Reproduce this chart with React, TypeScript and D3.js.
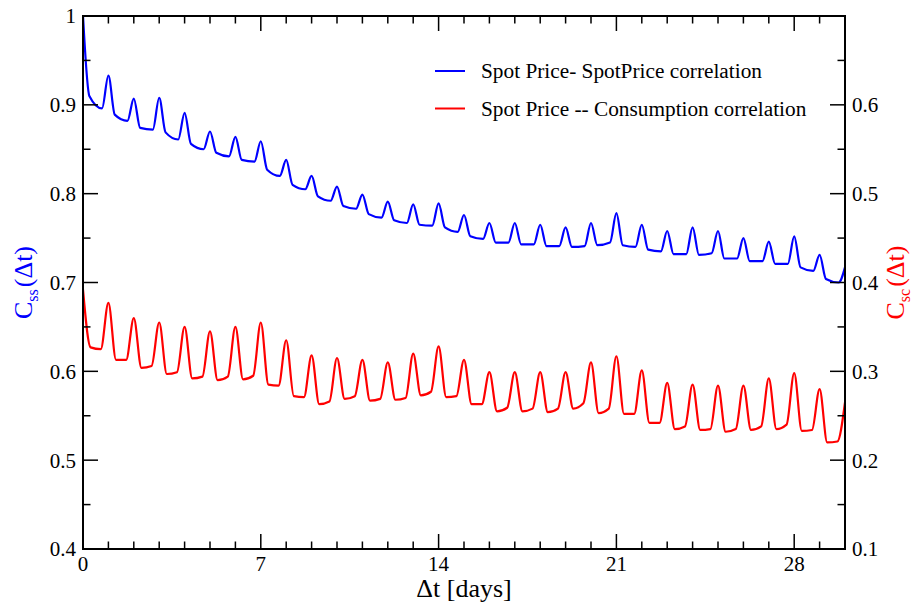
import React from "react";
import * as d3 from "d3";

// Days 0..30 — peak value at each whole day, and two trough values per day
const bluePeak = [1.0, 0.933, 0.907, 0.908, 0.891, 0.870, 0.864, 0.859, 0.838, 0.820, 0.808, 0.799, 0.791, 0.788, 0.789, 0.776, 0.767, 0.767, 0.765, 0.762, 0.767, 0.778, 0.765, 0.758, 0.762, 0.758, 0.750, 0.746, 0.752, 0.731, 0.717];
const blueA = [0.910, 0.889, 0.874, 0.869, 0.856, 0.846, 0.838, 0.827, 0.810, 0.797, 0.786, 0.777, 0.770, 0.765, 0.762, 0.752, 0.745, 0.743, 0.741, 0.740, 0.742, 0.742, 0.737, 0.732, 0.731, 0.727, 0.724, 0.721, 0.717, 0.704];
const blueB = [0.896, 0.882, 0.872, 0.861, 0.850, 0.842, 0.836, 0.820, 0.805, 0.792, 0.783, 0.773, 0.767, 0.764, 0.757, 0.749, 0.745, 0.743, 0.741, 0.741, 0.745, 0.740, 0.735, 0.732, 0.733, 0.727, 0.724, 0.721, 0.713, 0.700];

const redPeak = [0.392, 0.377, 0.360, 0.355, 0.350, 0.345, 0.350, 0.355, 0.335, 0.318, 0.315, 0.313, 0.310, 0.320, 0.328, 0.313, 0.299, 0.299, 0.299, 0.299, 0.310, 0.317, 0.301, 0.287, 0.285, 0.284, 0.284, 0.292, 0.298, 0.280, 0.265];
const redA = [0.327, 0.313, 0.304, 0.297, 0.292, 0.290, 0.291, 0.285, 0.272, 0.263, 0.269, 0.267, 0.268, 0.273, 0.271, 0.263, 0.255, 0.255, 0.254, 0.258, 0.253, 0.252, 0.242, 0.235, 0.234, 0.232, 0.234, 0.235, 0.233, 0.220];
const redB = [0.325, 0.313, 0.306, 0.299, 0.294, 0.294, 0.295, 0.284, 0.271, 0.266, 0.272, 0.269, 0.270, 0.277, 0.272, 0.263, 0.259, 0.258, 0.258, 0.264, 0.258, 0.252, 0.242, 0.238, 0.235, 0.235, 0.238, 0.240, 0.234, 0.221];

// day phase at which the trough values are sampled
const bluePhases = [0.25, 0.75];
const redPhases = [0.3, 0.7];

const xMajor = [0, 7, 14, 21, 28];
const xMinor = d3.range(0, 31, 1);
const leftMajor = [0.4, 0.5, 0.6, 0.7, 0.8, 0.9, 1.0];
const leftMinor = [0.45, 0.55, 0.65, 0.75, 0.85, 0.95];
const rightMajor = [0.1, 0.2, 0.3, 0.4, 0.5, 0.6, 0.7];
const rightMinor = [0.15, 0.25, 0.35, 0.45, 0.55, 0.65];
const rightLabels = [0.1, 0.2, 0.3, 0.4, 0.5, 0.6];

const legendLabels = ["Spot Price- SpotPrice correlation", "Spot Price -- Consumption correlation"];

function buildSeries(peak: number[], a: number[], b: number[], ph: number[]): [number, number][] {
  const pts: [number, number][] = [];
  for (let d = 0; d < a.length; d++) {
    pts.push([d, peak[d]]);
    pts.push([d + ph[0], a[d]]);
    pts.push([d + ph[1], b[d]]);
  }
  pts.push([a.length, peak[a.length]]);
  return pts;
}

export default function App() {
  const W = 917, H = 608;
  const L = 83, R = 845, T = 16, B = 549;
  const x = d3.scaleLinear().domain([0, 30]).range([L, R]);
  const yL = d3.scaleLinear().domain([0.4, 1.0]).range([B, T]);
  const yR = d3.scaleLinear().domain([0.1, 0.7]).range([B, T]);

  const blue = buildSeries(bluePeak, blueA, blueB, bluePhases);
  const red = buildSeries(redPeak, redA, redB, redPhases);

  const lineL = d3.line<[number, number]>().x(d => x(d[0])).y(d => yL(d[1])).curve(d3.curveMonotoneX);
  const lineR = d3.line<[number, number]>().x(d => x(d[0])).y(d => yR(d[1])).curve(d3.curveMonotoneX);

  const font = "'Liberation Serif', 'Times New Roman', serif";
  const majLen = 15, minLen = 7.5;
  const fmt = (v: number) => (Math.abs(v - 1) < 1e-9 ? "1" : v.toFixed(1));

  return (
    <svg width={W} height={H} style={{ position: "absolute", left: 0, top: 0, background: "#fff" }} fontFamily={font}>
      <defs>
        <clipPath id="plotclip">
          <rect x={L} y={T} width={R - L} height={B - T} />
        </clipPath>
      </defs>
      <rect x={0} y={0} width={W} height={H} fill="#fff" />

      {/* series */}
      <g clipPath="url(#plotclip)" fill="none" strokeWidth={2.2} strokeLinejoin="round">
        <path d={lineL(blue) || ""} stroke="#0000ff" />
        <path d={lineR(red) || ""} stroke="#ff0000" />
      </g>

      {/* ticks */}
      <g stroke="#000" strokeWidth={1.5}>
        {xMinor.map(v => {
          const len = xMajor.includes(v) ? majLen : minLen;
          return (
            <g key={"xt" + v}>
              <line x1={x(v)} x2={x(v)} y1={B} y2={B - len} />
              <line x1={x(v)} x2={x(v)} y1={T} y2={T + len} />
            </g>
          );
        })}
        {leftMajor.map(v => <line key={"lM" + v} x1={L} x2={L + majLen} y1={yL(v)} y2={yL(v)} />)}
        {leftMinor.map(v => <line key={"lm" + v} x1={L} x2={L + minLen} y1={yL(v)} y2={yL(v)} />)}
        {rightMajor.map(v => <line key={"rM" + v} x1={R} x2={R - majLen} y1={yR(v)} y2={yR(v)} />)}
        {rightMinor.map(v => <line key={"rm" + v} x1={R} x2={R - minLen} y1={yR(v)} y2={yR(v)} />)}
      </g>

      {/* frame */}
      <rect x={L} y={T} width={R - L} height={B - T} fill="none" stroke="#000" strokeWidth={2} />

      {/* tick labels */}
      <g fontSize={21} fill="#000">
        {xMajor.map(v => (
          <text key={"xl" + v} x={x(v)} y={571} textAnchor="middle">{v}</text>
        ))}
        {leftMajor.map(v => (
          <text key={"ll" + v} x={76} y={yL(v)} dy="0.35em" textAnchor="end">{fmt(v)}</text>
        ))}
        {rightLabels.map(v => (
          <text key={"rl" + v} x={852} y={yR(v)} dy="0.35em" textAnchor="start">{fmt(v)}</text>
        ))}
      </g>

      {/* axis titles */}
      <text x={(L + R) / 2} y={597} textAnchor="middle" fontSize={26} fill="#000">Δt [days]</text>
      <text transform={`translate(32, ${(T + B) / 2}) rotate(-90)`} textAnchor="middle" fontSize={26} fill="#0000ff">
        C<tspan fontSize={16} dy={6}>ss</tspan><tspan dy={-6} dx={2}>(Δt)</tspan>
      </text>
      <text transform={`translate(904, ${(T + B) / 2}) rotate(-90)`} textAnchor="middle" fontSize={26} fill="#ff0000">
        C<tspan fontSize={16} dy={6}>sc</tspan><tspan dy={-6} dx={2}>(Δt)</tspan>
      </text>

      {/* legend */}
      <g>
        {legendLabels.map((lab, i) => {
          const yy = 71 + i * 37.5;
          return (
            <g key={lab}>
              <line x1={435} x2={465} y1={yy} y2={yy} stroke={i === 0 ? "#0000ff" : "#ff0000"} strokeWidth={2} />
              <text x={481} y={yy} dy="0.35em" fontSize={21.3} fill="#000">{lab}</text>
            </g>
          );
        })}
      </g>
    </svg>
  );
}
